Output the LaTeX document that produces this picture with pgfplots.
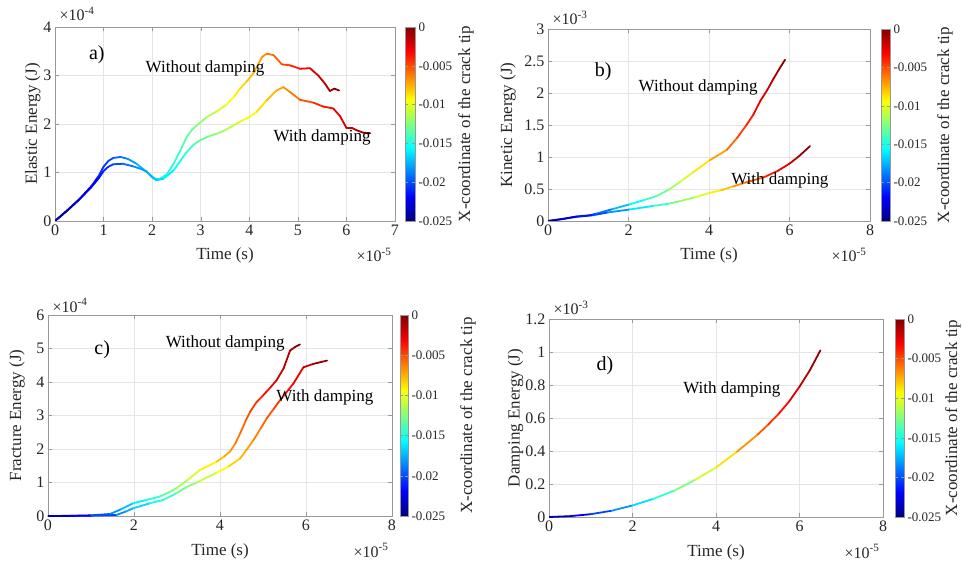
\documentclass[border=0pt]{standalone}
\usepackage{fontspec}
\setmainfont{Liberation Serif}
\usepackage{pgfplots}
\pgfplotsset{compat=1.18}

\newcommand\fsz[1]{\fontsize{#1}{#1}\selectfont}

\pgfplotsset{
  panel/.style={
    scale only axis, clip mode=individual,
    xmin=0, ymin=0,
    axis line style={draw=black!40},
    tick style={draw=black!40},
    tick align=inside, major tick length=4pt,
    xmajorgrids, ymajorgrids,
    grid style={draw=black!10, line width=0.5pt},
    tick label style={font=\fsz{16}, text=black!85},
    label style={font=\fsz{17}, text=black!85},
    xlabel={Time (s)},
    xlabel style={at={(axis description cs:0.5,-0.177)}, anchor=center},
    /pgf/number format/assume math mode=true,
    scaled ticks=false,
    colormap/jet,
    point meta min=-0.025, point meta max=0,
    colorbar,
  },
  % the default colorbar already has xshift=0.3cm; #1 is added to it
  cbar/.style n args={2}{
    colorbar style={
      at={(parent axis.north east)}, anchor=north west, xshift=#1,
      width=#2,
      ytick={-0.025,-0.02,-0.015,-0.01,-0.005,0},
      scaled y ticks=false,
      yticklabel style={font=\fsz{13}, text=black!85,
        /pgf/number format/fixed, /pgf/number format/precision=3,
        /pgf/number format/assume math mode=true},
      axis line style={draw=black!40},
      tick style={draw=black!40},
      major tick length=3pt, tick align=inside,
    },
  },
  crv/.style={mesh, line width=1.8pt, line cap=round, point meta=\thisrow{c}},
}

\newcommand\mulT[2]{\node[anchor=base west, font=\fsz{16}, text=black!85, xshift=1pt, yshift=#1] at (rel axis cs:0,1) {×10\textsuperscript{#2}};}
\newcommand\mulB{\node[anchor=base east, font=\fsz{16}, text=black!85, yshift=-41pt] at (rel axis cs:1,0) {×10\textsuperscript{-5}};}
\newcommand\cblab[2]{\node[rotate=90, font=\fsz{17}, text=black!85] at (#1pt,#2pt) {X-coordinate of the crack tip};}

\begin{document}
\begin{tikzpicture}
\path[use as bounding box] (0,0) rectangle (964pt,565pt);

% ---------------- a) elastic energy
\begin{axis}[panel, cbar={1.5pt}{10pt},
  at={(55pt,344pt)}, anchor=south west, width=340pt, height=194pt,
  xmax=7, ymax=4, xtick={0,1,...,7}, ytick={0,1,2,3,4},
  ylabel={Elastic Energy (J)},
  ylabel style={at={(axis description cs:-0.065,0.5)}, anchor=center},
]
\addplot[crv] table {
t v c
0 0 -0.0250
0.25 0.22 -0.0239
0.5 0.45 -0.0229
0.75 0.72 -0.0218
0.9 0.93 -0.0212
1.0 1.12 -0.0207
1.1 1.24 -0.0203
1.2 1.30 -0.0199
1.35 1.32 -0.0192
1.5 1.28 -0.0186
1.68 1.18 -0.0178
1.89 1.01 -0.0169
2.06 0.87 -0.0162
2.15 0.86 -0.0158
2.3 0.96 -0.0152
2.44 1.18 -0.0146
2.58 1.45 -0.0140
2.71 1.73 -0.0134
2.82 1.88 -0.0129
2.92 1.97 -0.0125
3.12 2.14 -0.0117
3.33 2.26 -0.0108
3.53 2.40 -0.0099
3.7 2.58 -0.0092
3.81 2.73 -0.0087
3.95 2.88 -0.0081
4.08 3.04 -0.0076
4.18 3.22 -0.0071
4.26 3.38 -0.0068
4.36 3.45 -0.0064
4.5 3.42 -0.0058
4.67 3.23 -0.0050
4.84 3.21 -0.0043
5.04 3.14 -0.0035
5.25 3.15 -0.0026
5.42 3.00 -0.0018
5.56 2.83 -0.0012
5.66 2.68 -0.0008
5.75 2.73 -0.0004
5.85 2.69 0.0000
};
\addplot[crv] table {
t v c
0 0 -0.0250
0.25 0.21 -0.0240
0.5 0.44 -0.0231
0.75 0.70 -0.0221
0.9 0.88 -0.0215
1.0 1.03 -0.0212
1.1 1.12 -0.0208
1.2 1.17 -0.0204
1.4 1.18 -0.0196
1.6 1.13 -0.0188
1.75 1.08 -0.0183
1.89 1.02 -0.0177
2.0 0.90 -0.0173
2.09 0.84 -0.0170
2.23 0.87 -0.0164
2.44 1.04 -0.0156
2.58 1.24 -0.0151
2.71 1.42 -0.0146
2.85 1.57 -0.0140
2.98 1.66 -0.0135
3.15 1.74 -0.0129
3.33 1.80 -0.0122
3.5 1.87 -0.0115
3.67 1.97 -0.0109
3.85 2.07 -0.0102
3.98 2.13 -0.0097
4.15 2.25 -0.0090
4.36 2.49 -0.0082
4.56 2.69 -0.0075
4.7 2.76 -0.0069
4.84 2.66 -0.0064
5.04 2.50 -0.0056
5.32 2.44 -0.0045
5.52 2.36 -0.0038
5.73 2.32 -0.0030
5.87 2.16 -0.0024
6.0 1.92 -0.0019
6.11 1.92 -0.0015
6.21 1.87 -0.0011
6.35 1.82 -0.0006
6.49 1.81 0.0000
};
\node[font=\fsz{20}] at (axis cs:0.86,3.42) {a)};
\node[font=\fsz{17}] at (axis cs:3.09,3.15) {Without damping};
\node[font=\fsz{17}] at (axis cs:5.5,1.73) {With damping};
\mulT{6pt}{-4}
\mulB
\end{axis}

% ---------------- b) kinetic energy
\begin{axis}[panel, cbar={2.5pt}{9pt},
  at={(548pt,344pt)}, anchor=south west, width=322pt, height=192pt,
  xmax=8, ymax=3, xtick={0,2,4,6,8}, ytick={0,0.5,...,3},
  ylabel={Kinetic Energy (J)},
  ylabel style={at={(axis description cs:-0.124,0.5)}, anchor=center},
]
\addplot[crv] table {
t v c
0 0 -0.0250
0.35 0.03 -0.0235
0.7 0.07 -0.0220
1.04 0.09 -0.0206
1.2 0.115 -0.0199
1.6 0.185 -0.0182
2.03 0.26 -0.0164
2.4 0.33 -0.0148
2.7 0.39 -0.0135
3.0 0.49 -0.0123
3.28 0.61 -0.0111
3.6 0.76 -0.0097
4.02 0.95 -0.0079
4.44 1.11 -0.0062
4.7 1.30 -0.0051
4.93 1.50 -0.0041
5.1 1.66 -0.0034
5.27 1.87 -0.0026
5.45 2.05 -0.0019
5.6 2.22 -0.0012
5.75 2.38 -0.0006
5.89 2.52 0.0000
};
\addplot[crv] table {
t v c
0 0 -0.0250
0.35 0.03 -0.0237
0.7 0.065 -0.0223
1.12 0.09 -0.0207
1.5 0.135 -0.0192
2.03 0.18 -0.0172
2.61 0.235 -0.0150
3.0 0.27 -0.0135
3.28 0.31 -0.0124
3.65 0.37 -0.0110
4.02 0.44 -0.0096
4.3 0.48 -0.0085
4.6 0.54 -0.0073
4.9 0.60 -0.0062
5.35 0.68 -0.0045
5.7 0.78 -0.0031
6.01 0.90 -0.0019
6.25 1.02 -0.0010
6.51 1.17 0.0000
};
\node[font=\fsz{20}] at (axis cs:1.37,2.33) {b)};
\node[font=\fsz{17}] at (axis cs:3.73,2.09) {Without damping};
\node[font=\fsz{17}] at (axis cs:5.76,0.64) {With damping};
\mulT{4pt}{-3}
\mulB
\end{axis}

% ---------------- c) fracture energy
\begin{axis}[panel, cbar={-0.5pt}{8pt},
  at={(48pt,49pt)}, anchor=south west, width=344pt, height=201pt,
  xmax=8, ymax=6, xtick={0,2,4,6,8}, ytick={0,1,...,6},
  ylabel={Fracture Energy (J)},
  ylabel style={at={(axis description cs:-0.09,0.5)}, anchor=center},
]
\addplot[crv] table {
t v c
0 0 -0.0250
0.5 0.005 -0.0229
1.0 0.02 -0.0207
1.44 0.06 -0.0189
1.7 0.2 -0.0177
1.98 0.38 -0.0166
2.29 0.48 -0.0152
2.6 0.58 -0.0139
2.8 0.70 -0.0131
2.99 0.83 -0.0122
3.25 1.08 -0.0111
3.53 1.37 -0.0099
3.92 1.62 -0.0083
4.1 1.78 -0.0075
4.23 1.92 -0.0070
4.35 2.15 -0.0064
4.47 2.47 -0.0059
4.6 2.85 -0.0054
4.7 3.11 -0.0049
4.85 3.40 -0.0043
5.01 3.61 -0.0036
5.18 3.85 -0.0029
5.32 4.06 -0.0023
5.48 4.41 -0.0016
5.63 4.94 -0.0010
5.75 5.05 -0.0005
5.86 5.12 0.0000
};
\addplot[crv] table {
t v c
0 0 -0.0250
0.5 0.003 -0.0231
1.0 0.01 -0.0212
1.59 0.03 -0.0189
1.8 0.13 -0.0181
1.98 0.23 -0.0174
2.37 0.38 -0.0159
2.68 0.48 -0.0147
2.99 0.68 -0.0135
3.2 0.85 -0.0127
3.46 1.00 -0.0117
3.92 1.29 -0.0099
4.2 1.48 -0.0088
4.47 1.72 -0.0078
4.62 1.98 -0.0072
4.78 2.27 -0.0066
4.95 2.62 -0.0059
5.09 2.92 -0.0054
5.25 3.20 -0.0048
5.4 3.46 -0.0042
5.55 3.70 -0.0036
5.71 3.96 -0.0030
5.94 4.44 -0.0021
6.17 4.54 -0.0012
6.49 4.64 0.0000
};
\node[font=\fsz{20}] at (axis cs:1.26,4.96) {c)};
\node[font=\fsz{17}] at (axis cs:4.12,5.16) {Without damping};
\node[font=\fsz{17}] at (axis cs:6.44,3.55) {With damping};
\mulT{3pt}{-4}
\mulB
\end{axis}

% ---------------- d) damping energy
\begin{axis}[panel, cbar={3.5pt}{9pt},
  at={(549pt,48pt)}, anchor=south west, width=334pt, height=198pt,
  xmax=8, ymax=1.2, xtick={0,2,4,6,8}, ytick={0,0.2,0.4,0.6,0.8,1,1.2},
  ylabel={Damping Energy (J)},
  ylabel style={at={(axis description cs:-0.10,0.5)}, anchor=center},
]
\addplot[crv] table {
t v c
0 0 -0.0250
0.5 0.005 -0.0231
1.0 0.017 -0.0212
1.5 0.038 -0.0192
2.0 0.07 -0.0173
2.5 0.11 -0.0154
3.0 0.16 -0.0135
3.5 0.225 -0.0115
4.0 0.30 -0.0096
4.5 0.395 -0.0077
5.0 0.50 -0.0058
5.25 0.56 -0.0048
5.5 0.625 -0.0038
5.75 0.70 -0.0029
6.0 0.79 -0.0019
6.25 0.89 -0.0010
6.5 1.01 0.0000
};
\node[font=\fsz{20}] at (axis cs:1.34,0.92) {d)};
\node[font=\fsz{17}] at (axis cs:4.38,0.776) {With damping};
\mulT{4pt}{-3}
\mulB
\end{axis}

% colorbar labels
\cblab{466}{441}
\cblab{945}{440}
\cblab{468}{149.5}
\cblab{953}{147}
\end{tikzpicture}
\end{document}
